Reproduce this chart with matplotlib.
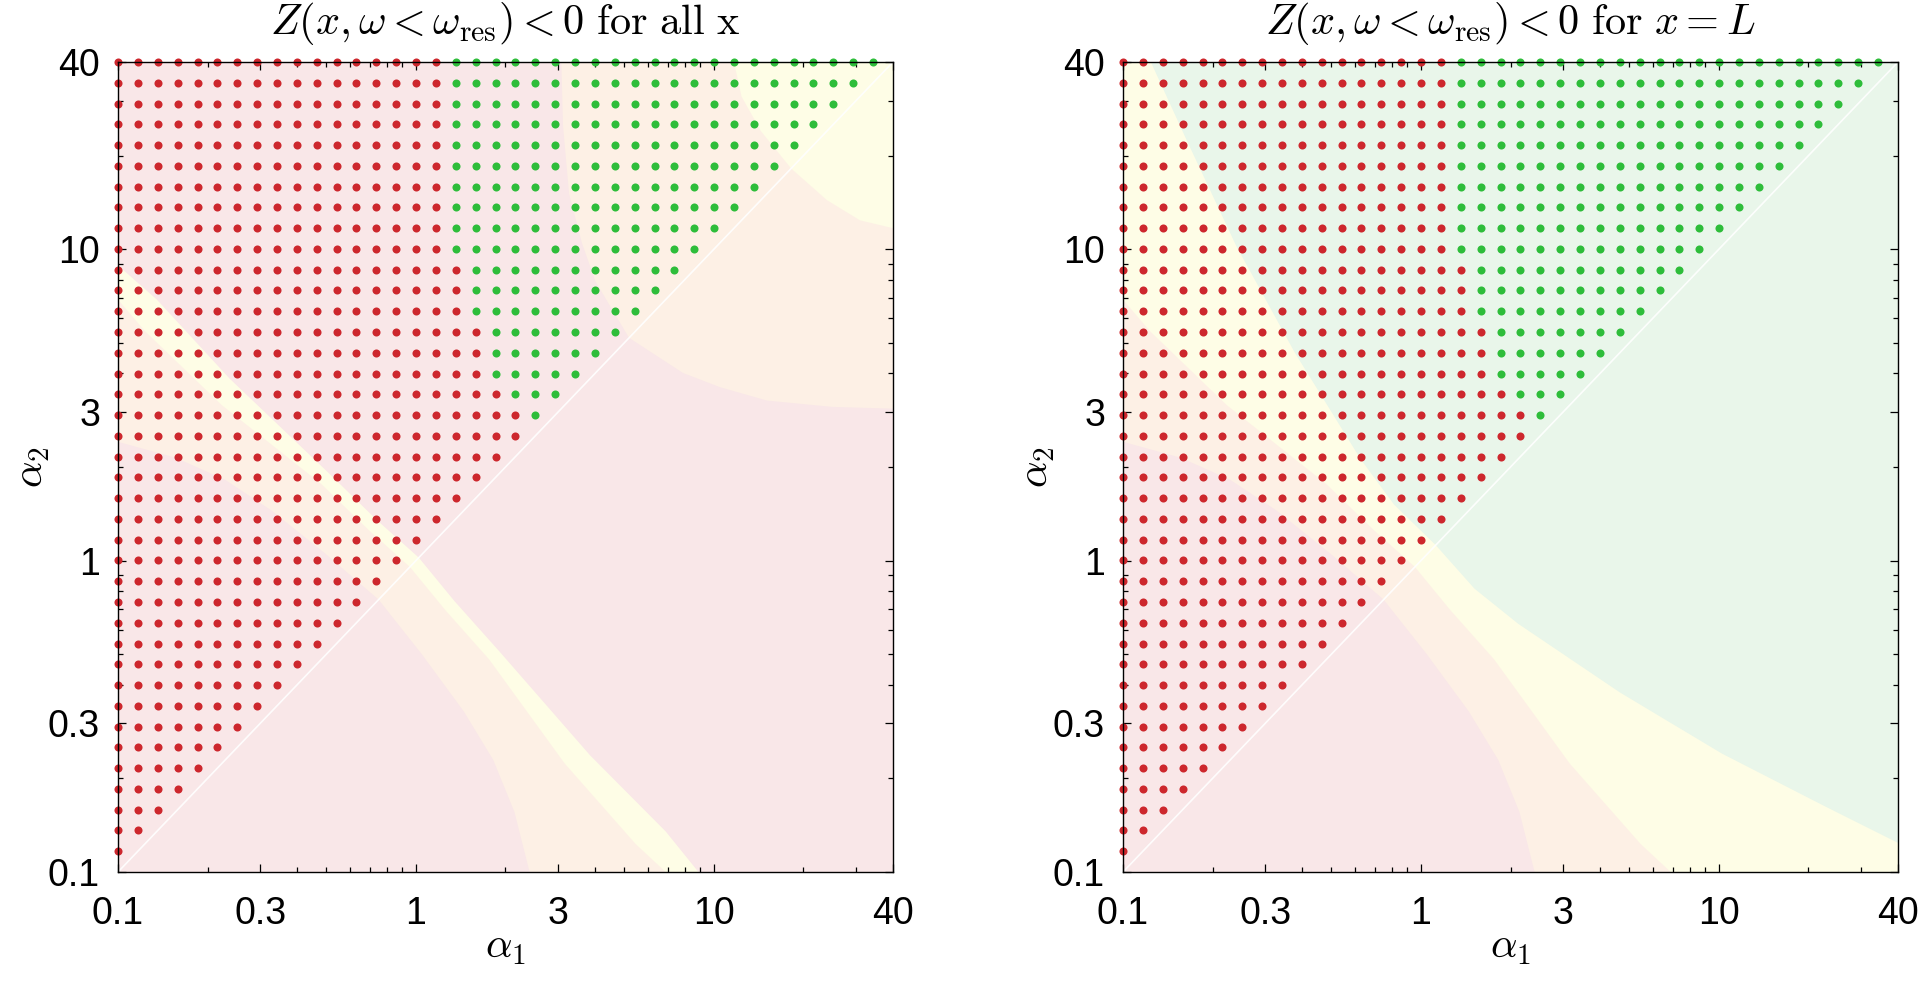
import matplotlib
matplotlib.use("Agg")
import matplotlib.pyplot as plt
from matplotlib.ticker import FixedLocator, LogLocator, NullFormatter

plt.rcParams['mathtext.fontset'] = 'cm'
plt.rcParams['font.family'] = ['Liberation Sans', 'DejaVu Sans']

# alpha values of the scan grid (same on both axes), 40 log-spaced points
alpha_grid = [0.1, 0.1166, 0.1360, 0.1585, 0.1849, 0.2156, 0.2514, 0.2931,
              0.3418, 0.3985, 0.4647, 0.5419, 0.6319, 0.7368, 0.8591, 1.002,
              1.168, 1.362, 1.588, 1.852, 2.159, 2.518, 2.936, 3.424,
              3.992, 4.655, 5.428, 6.329, 7.380, 8.605, 10.03, 11.70,
              13.64, 15.91, 18.55, 21.63, 25.22, 29.41, 34.29, 40.0]

# row j (alpha2 = alpha_grid[j]) has points for alpha1 index 0..j-1;
# the first n_red[j] of them are red, the rest green (same in both panels)
n_red = [0, 1, 2, 3, 4, 5, 6, 7, 8, 9, 10, 11, 12, 13, 14, 15, 16, 17, 18, 19,
         20, 21, 21, 20, 19, 19, 19, 18, 18, 18, 17, 17, 17, 17, 17, 17, 17, 17,
         17, 17]

# background region boundaries (alpha1, alpha2), below-diagonal half,
# from the diagonal out to the edge; the map is symmetric in alpha1 <-> alpha2
pink_peach = [(0.75, 0.75), (1.047, 0.501), (1.449, 0.328), (1.82, 0.229),
              (2.143, 0.156), (2.41, 0.1)]
peach_yellow = [(0.955, 0.955), (1.259, 0.692), (1.762, 0.482), (3.162, 0.223),
                (5.47, 0.123), (6.9, 0.1)]
yellow_pink = [(1.023, 1.023), (1.349, 0.741), (1.905, 0.512), (3.846, 0.237),
               (6.9, 0.135), (8.89, 0.1)]
corner_peach = [(5.2, 5.2), (7.89, 4.01), (10.5, 3.61), (15.1, 3.27),
                (25.0, 3.12), (40.0, 3.08)]
corner_yellow = [(18.2, 18.2), (24.0, 14.4), (31.0, 12.4), (40.0, 11.7)]
yellow_green = [(1.122, 1.122), (1.514, 0.813), (2.123, 0.627), (4.667, 0.377),
                (10.26, 0.240), (22.6, 0.163), (40.0, 0.124)]

titles = [r'$Z(x,\omega<\omega_{\mathrm{res}})<0\ \mathrm{for\ all\ x}$',
          r'$Z(x,\omega<\omega_{\mathrm{res}})<0\ \mathrm{for}\ x=L$']
tick_vals = [0.1, 0.3, 1, 3, 10, 40]
tick_labels = ['0.1', '0.3', '1', '3', '10', '40']

PINK = '#f9e7e8'
PEACH = '#fdf0e5'
YELLOW = '#fefde6'
GREEN = '#e9f6ea'
RED_DOT = '#cd272d'
GREEN_DOT = '#2ebd3a'


def region_beyond(half):
    # full symmetric curve, then close it over the upper-right side
    full = [(b, a) for (a, b) in reversed(half)] + half[1:]
    xs = [p[0] for p in full]
    ys = [p[1] for p in full]
    xs += [xs[-1], 1e4, 1e4, 1e-3, 1e-3]
    ys += [1e-3, 1e-3, 1e4, 1e4, ys[0]]
    return xs, ys


fig = plt.figure(figsize=(19.2, 9.84), dpi=100)
ax_l = fig.add_axes([118 / 1920, 112 / 984, 775 / 1920, 810 / 984])
ax_r = fig.add_axes([1123 / 1920, 112 / 984, 775 / 1920, 810 / 984])

layers_l = [(pink_peach, PEACH), (peach_yellow, YELLOW), (yellow_pink, PINK),
            (corner_peach, PEACH), (corner_yellow, YELLOW)]
layers_r = [(pink_peach, PEACH), (peach_yellow, YELLOW), (yellow_green, GREEN)]

for ax, layers, title in [(ax_l, layers_l, titles[0]), (ax_r, layers_r, titles[1])]:
    ax.set_xscale('log')
    ax.set_yscale('log')
    ax.set_facecolor(PINK)
    for half, col in layers:
        xs, ys = region_beyond(half)
        ax.fill(xs, ys, color=col, lw=0, zorder=0.5)

    ax.plot([alpha_grid[0], alpha_grid[-1]], [alpha_grid[0], alpha_grid[-1]],
            color='white', lw=1.2, alpha=0.9, zorder=1)

    rx, ry, gx, gy = [], [], [], []
    for j, a2 in enumerate(alpha_grid):
        for i in range(j):
            if i < n_red[j]:
                rx.append(alpha_grid[i]); ry.append(a2)
            else:
                gx.append(alpha_grid[i]); gy.append(a2)
    ax.plot(rx, ry, 'o', color=RED_DOT, ms=5.8, mew=0, clip_on=False, zorder=2)
    ax.plot(gx, gy, 'o', color=GREEN_DOT, ms=5.8, mew=0, clip_on=False, zorder=2)

    ax.set_xlim(0.1, 40)
    ax.set_ylim(0.1, 40)
    for axis in (ax.xaxis, ax.yaxis):
        axis.set_major_locator(FixedLocator(tick_vals))
        axis.set_minor_locator(LogLocator(base=10, subs=range(2, 10)))
        axis.set_minor_formatter(NullFormatter())
    ax.set_xticklabels(tick_labels)
    ax.set_yticklabels(tick_labels)
    ax.tick_params(which='both', direction='in', top=True, right=True, width=0.9)
    ax.tick_params(which='major', length=6, labelsize=27)
    ax.tick_params(which='minor', length=3.5)
    ax.tick_params(axis='x', which='major', pad=17)
    ax.tick_params(axis='y', which='major', pad=13)
    for sp in ax.spines.values():
        sp.set_linewidth(1.0)
        sp.set_zorder(3)

    ax.set_xlabel(r'$\alpha_1$', fontsize=30, labelpad=-3)
    ax.set_ylabel(r'$\alpha_2$', fontsize=30, labelpad=-3)
    ax.set_title(title, fontsize=30.5, pad=20.5)

fig.savefig('out.png', dpi=100)
